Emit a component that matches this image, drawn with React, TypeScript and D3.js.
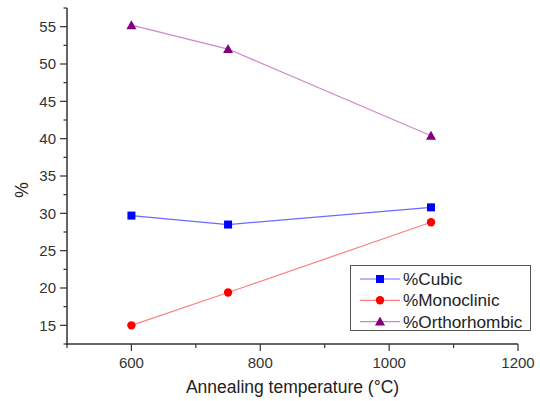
import React from "react";
import * as d3 from "d3";

const temps = [600, 750, 1065];
const cubic = [29.7, 28.5, 30.8];
const monoclinic = [15.0, 19.4, 28.8];
const orthorhombic = [55.2, 52.0, 40.4];

const xTicks = [600, 800, 1000, 1200];
const xMinor = [500, 700, 900, 1100];
const yTicks = [15, 20, 25, 30, 35, 40, 45, 50, 55];
const yMinor = [12.5, 17.5, 22.5, 27.5, 32.5, 37.5, 42.5, 47.5, 52.5, 57.5];

const series = [
	{ name: "%Cubic", values: cubic, line: "#6a6aff", mark: "#0000ff", shape: "square" },
	{ name: "%Monoclinic", values: monoclinic, line: "#ff8080", mark: "#ff0000", shape: "circle" },
	{ name: "%Orthorhombic", values: orthorhombic, line: "#cc88cc", mark: "#800080", shape: "triangle" },
];

const W = 540;
const H = 401;
const x = d3.scaleLinear().domain([500, 1200]).range([67, 518]);
const y = d3.scaleLinear().domain([12.5, 57.5]).range([344, 8]);
const font = "'Liberation Sans', Arial, sans-serif";
const axisColor = "#333";

const Marker = ({ shape, cx, cy, color }: { shape: string; cx: number; cy: number; color: string }) => {
	if (shape === "square") return <rect x={cx - 4} y={cy - 4} width={8} height={8} fill={color} />;
	if (shape === "circle") return <circle cx={cx} cy={cy} r={4.2} fill={color} />;
	return <path d={`M${cx},${cy - 5}L${cx + 5},${cy + 4}L${cx - 5},${cy + 4}Z`} fill={color} />;
};

export default function App() {
	const line = d3
		.line<number>()
		.x((_, i) => x(temps[i]))
		.y((d) => y(d));
	return (
		<svg width={W} height={H} style={{ position: "absolute", left: 0, top: 0, background: "#fff" }}>
			<rect width={W} height={H} fill="#fff" />
			{/* axes */}
			<line x1={67} x2={67} y1={y(57.5)} y2={345} stroke={axisColor} strokeWidth={1.5} />
			<line x1={66} x2={x(1200)} y1={344} y2={344} stroke={axisColor} strokeWidth={1.5} />
			{yTicks.map((t) => (
				<g key={t}>
					<line x1={60} x2={67} y1={y(t)} y2={y(t)} stroke={axisColor} strokeWidth={1.2} />
					<text x={56} y={y(t)} dy="0.35em" textAnchor="end" fontFamily={font} fontSize={15} fill={axisColor}>
						{t}
					</text>
				</g>
			))}
			{yMinor.map((t) => (
				<line key={t} x1={63.5} x2={67} y1={y(t)} y2={y(t)} stroke={axisColor} strokeWidth={1.2} />
			))}
			{xTicks.map((t) => (
				<g key={t}>
					<line x1={x(t)} x2={x(t)} y1={344} y2={351} stroke={axisColor} strokeWidth={1.2} />
					<text x={x(t)} y={368} textAnchor="middle" fontFamily={font} fontSize={15} fill={axisColor}>
						{t}
					</text>
				</g>
			))}
			{xMinor.map((t) => (
				<line key={t} x1={x(t)} x2={x(t)} y1={344} y2={348} stroke={axisColor} strokeWidth={1.2} />
			))}
			<text x={292.5} y={393} textAnchor="middle" fontFamily={font} fontSize={17.5} fill="#222">
				Annealing temperature (°C)
			</text>
			<text transform="translate(28,190) rotate(-90)" textAnchor="middle" fontFamily={font} fontSize={17.5} fill="#222">
				%
			</text>
			{/* series */}
			{series.map((s) => (
				<g key={s.name}>
					<path d={line(s.values) || ""} fill="none" stroke={s.line} strokeWidth={1.2} />
					{s.values.map((v, i) => (
						<Marker key={i} shape={s.shape} cx={x(temps[i])} cy={y(v)} color={s.mark} />
					))}
				</g>
			))}
			{/* legend */}
			<g>
				<rect x={350.5} y={265.5} width={180} height={65} fill="#fff" stroke="#555" strokeWidth={1} />
				{series.map((s, i) => {
					const ly = 279 + i * 21.3;
					return (
						<g key={s.name}>
							<line x1={360} x2={400} y1={ly} y2={ly} stroke={s.line} strokeWidth={1.2} />
							<Marker shape={s.shape} cx={380} cy={ly} color={s.mark} />
							<text x={403} y={ly} dy="0.35em" fontFamily={font} fontSize={17.2} fill="#222">
								{s.name}
							</text>
						</g>
					);
				})}
			</g>
		</svg>
	);
}
